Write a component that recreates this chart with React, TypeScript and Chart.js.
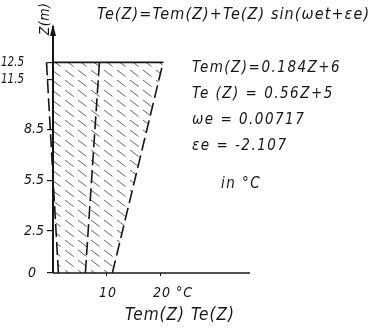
import { useEffect, useRef } from "react";
import { Chart, registerables } from "chart.js";

Chart.register(...registerables);

// ---- data ----
const depthLevels = [0, 12.5];
const lowerEnvelope = [1, -1.2]; // Tem(Z) - Te(Z)
const meanTemp = [6, 8.6]; // Tem(Z)
const upperEnvelope = [11, 20.4]; // Tem(Z) + Te(Z)
const surfaceX = [0, 20.4];
const surfaceZ = [12.5, 12.5];

const yTicks = [0, 2.5, 5.5, 8.5, 11.5, 12.5];
const yTickLabels = ["0", "2.5", "5.5", "8.5", "11.5", "12.5"];
const xTicks = [10, 20];
const xTickLabels = ["10", "20 °C"];

const titleText = "Te(Z)=Tem(Z)+Te(Z) sin(ωet+εe)";
const formulaLines = ["Tem(Z)=0.184Z+6", "Te (Z) = 0.56Z+5", "ωe = 0.00717", "εe = -2.107"];
const unitNote = "in °C";
const xAxisTitle = "Tem(Z) Te(Z)";
const yAxisTitle = "Z(m)";

const FONT = '"DejaVu Sans Condensed", "DejaVu Sans", sans-serif';
const INK = "#161616";

const pts = (xs: number[], ys: number[]) => xs.map((x, i) => ({ x, y: ys[i] }));

function makeHatch(ctx: CanvasRenderingContext2D) {
  const c = document.createElement("canvas");
  c.width = 13;
  c.height = 10;
  const g = c.getContext("2d")!;
  g.strokeStyle = "rgba(0,0,0,0.62)";
  g.lineWidth = 1;
  g.beginPath();
  g.moveTo(0, 0);
  g.lineTo(8.5, 6.5);
  g.stroke();
  return ctx.createPattern(c, "repeat");
}

const annotate = {
  id: "annotate",
  afterDraw(chart: any) {
    const { ctx, chartArea } = chart;
    const x = chart.scales.x;
    const y = chart.scales.y;
    ctx.save();
    ctx.fillStyle = INK;
    ctx.strokeStyle = INK;

    // x axis baseline starting at the Z axis
    const x0 = x.getPixelForValue(0);
    const y0 = y.getPixelForValue(0);
    ctx.lineWidth = 1.6;
    ctx.beginPath();
    ctx.moveTo(x0, y0);
    ctx.lineTo(chartArea.right, y0);
    ctx.stroke();

    // arrow head on Z axis
    const ay = chartArea.top;
    ctx.beginPath();
    ctx.moveTo(x0 - 3, ay + 9);
    ctx.lineTo(x0, ay - 3);
    ctx.lineTo(x0 + 3, ay + 9);
    ctx.closePath();
    ctx.fill();

    ctx.textBaseline = "middle";

    // title
    ctx.font = `italic 16px ${FONT}`;
    ctx.textAlign = "left";
    (ctx as any).letterSpacing = "1.1px";
    ctx.fillText(titleText, 97, 15);

    // formulas
    ctx.font = `italic 15px ${FONT}`;
    (ctx as any).letterSpacing = "1.5px";
    const fy = [68, 94, 120, 146];
    formulaLines.forEach((t, i) => ctx.fillText(t, 192, fy[i]));
    ctx.fillText(unitNote, 221, 184);

    // y tick labels
    ctx.textAlign = "right";
    (ctx as any).letterSpacing = "0px";
    ctx.font = `italic 14px ${FONT}`;
    yTicks.forEach((v, i) => {
      const py = y.getPixelForValue(v);
      if (v >= 11) {
        ctx.fillText(yTickLabels[i], 24, py, 23);
      } else {
        ctx.fillText(yTickLabels[i], v === 0 ? 36 : 44, py);
      }
    });

    // x tick labels
    ctx.textAlign = "left";
    (ctx as any).letterSpacing = "1px";
    xTicks.forEach((v, i) => {
      ctx.fillText(xTickLabels[i], x.getPixelForValue(v) - 8, 293);
    });

    // x axis title
    ctx.font = `italic 17px ${FONT}`;
    ctx.textAlign = "center";
    (ctx as any).letterSpacing = "1px";
    ctx.fillText(xAxisTitle, 180, 316);

    // y axis title (rotated)
    ctx.font = `italic 14px ${FONT}`;
    (ctx as any).letterSpacing = "0.5px";
    ctx.translate(45, 19);
    ctx.rotate(-Math.PI / 2);
    ctx.fillText(yAxisTitle, 0, 0);
    ctx.restore();
  },
};

export default function App() {
  const ref = useRef<HTMLCanvasElement | null>(null);

  useEffect(() => {
    document.body.style.margin = "0";
    const canvas = ref.current!;
    const ctx = canvas.getContext("2d")!;
    const hatch = makeHatch(ctx);

    const dashed = {
      borderColor: INK,
      borderWidth: 1.6,
      borderDash: [13, 5],
      pointRadius: 0,
      tension: 0,
    };

    const chart = new Chart(ctx, {
      type: "line",
      data: {
        datasets: [
          { label: "Tem-Te", data: pts(lowerEnvelope, depthLevels), ...dashed, fill: false },
          { label: "Tem", data: pts(meanTemp, depthLevels), ...dashed, fill: false },
          {
            label: "Tem+Te",
            data: pts(upperEnvelope, depthLevels),
            ...dashed,
            fill: 0,
            backgroundColor: hatch as any,
          },
          {
            label: "surface",
            data: pts(surfaceX, surfaceZ),
            borderColor: INK,
            borderWidth: 1.6,
            pointRadius: 0,
            fill: false,
          },
        ],
      },
      options: {
        indexAxis: "y",
        responsive: false,
        animation: false,
        devicePixelRatio: 1,
        layout: { padding: { left: 26, top: 27, right: 126, bottom: 48 } },
        plugins: { legend: { display: false }, tooltip: { enabled: false }, title: { display: false } },
        scales: {
          x: {
            type: "linear",
            min: -5,
            max: 36.5,
            afterBuildTicks: (s: any) => {
              s.ticks = xTicks.map((v) => ({ value: v }));
            },
            afterFit: (s: any) => {
              s.height = 10;
            },
            ticks: { display: false },
            grid: { drawOnChartArea: false, tickLength: 3, color: INK },
            border: { display: false },
          },
          y: {
            type: "linear",
            position: { x: 0 } as any,
            min: 0,
            max: 14.6,
            afterBuildTicks: (s: any) => {
              s.ticks = yTicks.map((v) => ({ value: v }));
            },
            ticks: { display: false },
            grid: { drawOnChartArea: false, tickLength: 5, color: INK, lineWidth: 1.2 },
            border: { display: true, color: INK, width: 2 },
          },
        },
      },
      plugins: [annotate],
    });
    return () => chart.destroy();
  }, []);

  return <canvas ref={ref} width={376} height={331} style={{ display: "block", width: 376, height: 331 }} />;
}
